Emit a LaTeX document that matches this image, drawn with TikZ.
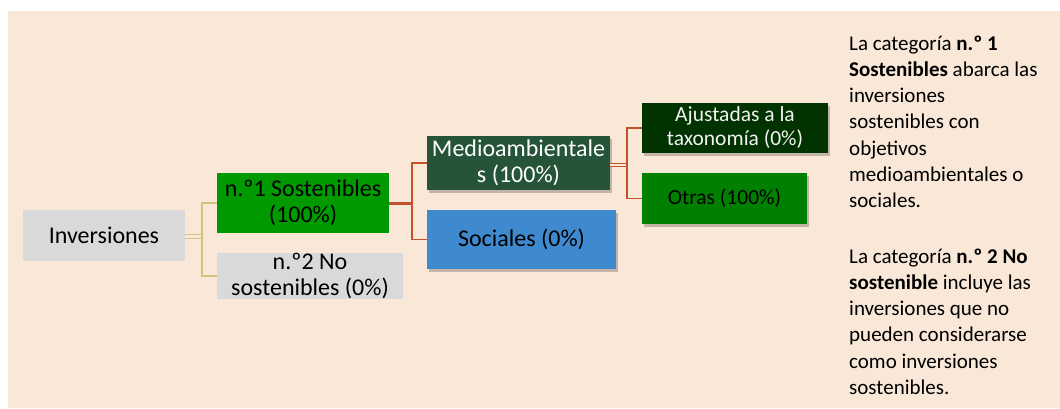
\documentclass[tikz,border=0pt]{standalone}
\usepackage{fontspec}
\setmainfont{Carlito}
\usetikzlibrary{shadows}
\definecolor{bgpeach}{HTML}{F9E7D7}
\definecolor{boxgray}{HTML}{D9D9D9}
\definecolor{sostgreen}{HTML}{009900}
\definecolor{medgreen}{HTML}{265438}
\definecolor{socblue}{HTML}{3F89CF}
\definecolor{ajdark}{HTML}{003300}
\definecolor{otrgreen}{HTML}{008000}
\definecolor{tanline}{HTML}{D4C47A}
\definecolor{redline}{HTML}{C4502E}
\tikzset{
  catbox/.style={rectangle, inner sep=0pt, align=center,
    font=\fontsize{24}{26.5}\selectfont},
  smallcat/.style={font=\fontsize{21.5}{24}\selectfont},
  shadowed/.style={drop shadow={shadow xshift=2pt, shadow yshift=-3pt, opacity=0.22, fill=black}},
  tanconn/.style={draw=tanline, line width=1.2pt},
  redconn/.style={draw=redline, line width=1.5pt},
  sidetext/.style={inner sep=0pt, anchor=north west, align=left,
    font=\fontsize{21}{26.2}\selectfont}
}
\begin{document}
\begin{tikzpicture}[x=1pt, y=-1pt]
\useasboundingbox (0,0) rectangle (1060,408);
\fill[bgpeach] (8,11) rectangle (1060,408);

\node[catbox, fill=boxgray, minimum width=162pt, minimum height=51pt] (inv) at (104,235.5) {Inversiones};
\node[catbox, fill=sostgreen, minimum width=172pt, minimum height=60pt] (n1) at (303,203) {n.º1 Sostenibles\\(100\%)};
\node[catbox, fill=boxgray, minimum width=186pt, minimum height=46pt] (n2) at (310,276) {n.º2 No\\sostenibles (0\%)};
\node[catbox, shadowed, fill=medgreen, text=white, minimum width=183pt, minimum height=54pt] (med) at (518.5,163) {Medioambientale\\s (100\%)};
\node[catbox, shadowed, fill=socblue, minimum width=189pt, minimum height=59pt] (soc) at (521.5,239.5) {Sociales (0\%)};
\node[catbox, smallcat, shadowed, fill=ajdark, text=white!95!black, minimum width=186pt, minimum height=50pt] (aju) at (735,128) {Ajustadas a la\\taxonomía (0\%)};
\node[catbox, smallcat, shadowed, fill=otrgreen, minimum width=165pt, minimum height=51pt] (otr) at (724.5,198.5) {Otras (100\%)};

\coordinate (j1) at (202,236.5);
\draw[draw=tanline, line width=1pt, double=bgpeach, double distance=2.5pt] (inv.east |- j1) -- (j1);
\draw[tanconn] (j1) |- (n1.west);
\draw[tanconn] (j1) |- (n2.west);

\coordinate (j2) at (412,203);
\draw[redline, line width=3pt] (n1.east) -- (j2);
\draw[redconn] (j2) |- (med.west);
\draw[redconn] (j2) |- (soc.west);

\coordinate (j3) at (627,165);
\draw[draw=redline, line width=1pt, double=bgpeach, double distance=1.2pt] (med.east |- j3) -- (j3);
\draw[redconn] (j3) |- (aju.west);
\draw[redconn] (j3) |- (otr.west);

\node[sidetext] (p1) at (849,32) {\rule{0pt}{18pt}La categoría \textbf{n.º 1}\\\textbf{Sostenibles} abarca las\\inversiones\\sostenibles con\\objetivos\\medioambientales o\\sociales.};
\node[sidetext] (p2) at (849,245) {\rule{0pt}{18pt}La categoría \textbf{n.º 2 No}\\\textbf{sostenible} incluye las\\inversiones que no\\pueden considerarse\\como inversiones\\sostenibles.};
\end{tikzpicture}
\end{document}
